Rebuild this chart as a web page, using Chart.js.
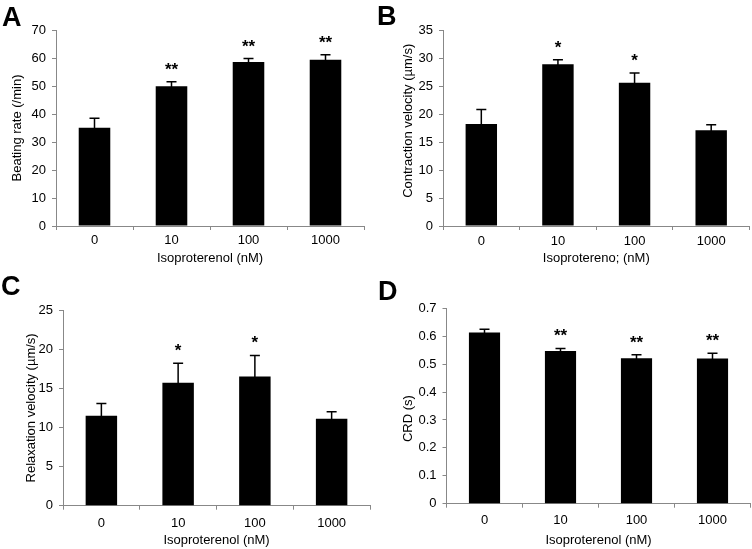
<!DOCTYPE html>
<html>
<head>
<meta charset="utf-8">
<script src="https://cdn.jsdelivr.net/npm/chart.js@4.4.1/dist/chart.umd.min.js"></script>
<style>
body { margin: 0; background: #fff; }
#wrap { position: relative; width: 752px; height: 549px; }
canvas { position: absolute; }
.letter { position: absolute; font: bold 27px "Liberation Sans", Arial, sans-serif; color: #000; line-height: 1; }
</style>
</head>
<body>
<div id="wrap">
  <canvas id="chartA" width="376" height="275" style="left:0;top:0"></canvas>
  <canvas id="chartB" width="376" height="275" style="left:376px;top:0"></canvas>
  <canvas id="chartC" width="376" height="274" style="left:0;top:275px"></canvas>
  <canvas id="chartD" width="376" height="274" style="left:376px;top:275px"></canvas>
  <div class="letter" style="left:2px;top:3.5px">A</div>
  <div class="letter" style="left:377px;top:2.5px">B</div>
  <div class="letter" style="left:1px;top:273px">C</div>
  <div class="letter" style="left:378px;top:277.5px">D</div>
</div>
<script>
var doses = ['0', '10', '100', '1000'];

var beatingRate = [35.1, 49.9, 58.6, 59.4];
var beatingRateErr = [3.4, 1.6, 1.2, 1.8];
var beatingStars = ['', '**', '**', '**'];

var contraction = [18.2, 28.9, 25.6, 17.1];
var contractionErr = [2.6, 0.8, 1.7, 1.0];
var contractionStars = ['', '*', '*', ''];

var relaxation = [11.5, 15.7, 16.5, 11.1];
var relaxationErr = [1.55, 2.5, 2.7, 0.9];
var relaxationStars = ['', '*', '*', ''];

var crd = [0.613, 0.547, 0.521, 0.52];
var crdErr = [0.012, 0.009, 0.013, 0.019];
var crdStars = ['', '**', '**', '**'];

Chart.defaults.font.family = '"Liberation Sans", Arial, sans-serif';
Chart.defaults.color = '#000';

// upper-only error bars plus the significance stars above them
var errorBars = {
  id: 'errorBars',
  afterDatasetsDraw: function(chart, args, opts) {
    var ctx = chart.ctx;
    var meta = chart.getDatasetMeta(0);
    var yScale = chart.scales.y;
    var values = chart.data.datasets[0].data;
    ctx.save();
    ctx.strokeStyle = '#000';
    ctx.lineWidth = 1.5;
    meta.data.forEach(function(bar, i) {
      var top = yScale.getPixelForValue(values[i] + opts.err[i]);
      ctx.beginPath();
      ctx.moveTo(bar.x, bar.y + 1);
      ctx.lineTo(bar.x, top);
      ctx.moveTo(bar.x - 5, top);
      ctx.lineTo(bar.x + 5, top);
      ctx.stroke();
      if (opts.stars[i]) {
        ctx.fillStyle = '#000';
        ctx.font = 'bold 17px "Liberation Sans", Arial, sans-serif';
        ctx.textAlign = 'center';
        ctx.textBaseline = 'alphabetic';
        ctx.fillText(opts.stars[i], bar.x, top - 7);
      }
    });
    ctx.restore();
  }
};

function makePanel(id, values, err, stars, yMax, yStep, yTitle, xTitle, box) {
  return new Chart(id, {
    type: 'bar',
    data: {
      labels: doses,
      datasets: [{
        data: values,
        backgroundColor: '#000',
        borderWidth: 0,
        barPercentage: 0.41,
        categoryPercentage: 1
      }]
    },
    options: {
      responsive: false,
      animation: false,
      layout: { padding: { left: 0, right: box.right, top: box.top, bottom: 0 } },
      plugins: {
        legend: { display: false },
        tooltip: { enabled: false },
        errorBars: { err: err, stars: stars }
      },
      scales: {
        x: {
          afterFit: function(scale) { scale.height = box.xHeight; },
          grid: { offset: true, drawOnChartArea: false, drawTicks: true, tickLength: 4, color: '#888' },
          border: { color: '#888', width: 1 },
          ticks: { padding: box.tickPad, font: { size: 13 }, color: '#000', maxRotation: 0 },
          title: { display: true, text: xTitle, font: { size: 13 }, color: '#000',
                   padding: { top: 0, bottom: box.xTitlePad } }
        },
        y: {
          min: 0,
          max: yMax,
          afterFit: function(scale) { scale.width = box.yWidth; },
          grid: { drawOnChartArea: false, drawTicks: true, tickLength: 4, color: '#888' },
          border: { color: '#888', width: 1 },
          ticks: { stepSize: yStep, padding: 6, font: { size: 13 }, color: '#000' },
          title: { display: true, text: yTitle, font: { size: 13 }, color: '#000',
                   padding: { top: box.yTitlePad, bottom: 0 } }
        }
      }
    },
    plugins: [errorBars]
  });
}

makePanel('chartA', beatingRate, beatingRateErr, beatingStars, 70, 10,
  'Beating rate (/min)', 'Isoproterenol (nM)',
  { yWidth: 56, right: 12, top: 30, xHeight: 49, tickPad: 3, xTitlePad: 9, yTitlePad: 9.5 });

makePanel('chartB', contraction, contractionErr, contractionStars, 35, 5,
  '    Contraction velocity (\u00b5m/s)', 'Isoprotereno; (nM)',
  { yWidth: 67, right: 2.5, top: 30, xHeight: 49, tickPad: 3.5, xTitlePad: 9, yTitlePad: 25 });

makePanel('chartC', relaxation, relaxationErr, relaxationStars, 25, 5,
  'Relaxation velocity (\u00b5m/s)', 'Isoproterenol (nM)',
  { yWidth: 63, right: 6, top: 35, xHeight: 43.3, tickPad: 6, xTitlePad: 0.5, yTitlePad: 24 });

makePanel('chartD', crd, crdErr, crdStars, 0.7, 0.1,
  'CRD (s)       ', 'Isoproterenol (nM)',
  { yWidth: 70.5, right: 1.5, top: 33.3, xHeight: 45.3, tickPad: 5, xTitlePad: 1.2, yTitlePad: 25 });
</script>
</body>
</html>
